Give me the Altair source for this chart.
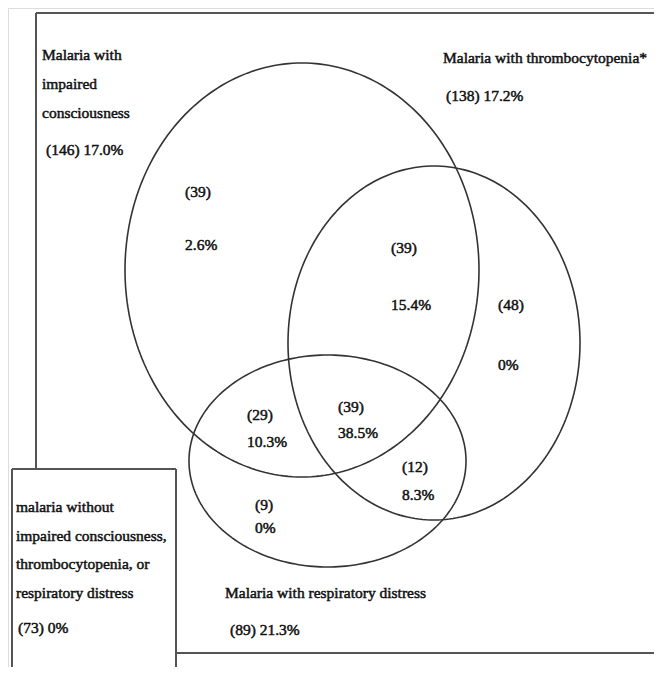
import altair as alt
import numpy as np
import pandas as pd

# ---- data ----
set_names = [
    ["Malaria with", "impaired", "consciousness"],
    ["Malaria with thrombocytopenia*"],
    ["Malaria with respiratory distress"],
    ["malaria without", "impaired consciousness,", "thrombocytopenia, or", "respiratory distress"],
]
set_counts = [146, 138, 89, 73]
set_pcts = ["17.0%", "17.2%", "21.3%", "0%"]

region_names = ["IC only", "IC+T", "T only", "IC+RD", "IC+T+RD", "T+RD", "RD only"]
region_counts = [39, 39, 48, 29, 39, 12, 9]
region_pcts = ["2.6%", "15.4%", "0%", "10.3%", "38.5%", "8.3%", "0%"]

# ---- layout (page-pixel positions) ----
# ellipses: cx, cy, rx, ry
ellipses = [(302, 270, 177, 207), (434, 343, 146, 177), (327.5, 461, 138.5, 106)]
# set label blocks: x, baseline of first line, line step, baseline of count line, x of count line
set_label_pos = [(42, 60, 29, 155, 46), (443, 63, 29, 101, 446), (225, 598, 29, 635, 230),
                 (16, 512, 28.5, 633, 18)]
# region labels: x, count baseline, pct baseline
region_pos = [(185, 197, 250), (391, 253, 310), (498, 310, 370), (247, 420, 447),
              (338, 412, 438), (402, 472, 500), (255, 510, 533)]
# frame lines: x, y, x2, y2
frame = [(36, 13, 662, 13), (36, 13, 36, 469), (176, 653, 662, 653),
         (12, 469, 176, 469), (12, 469, 12, 680), (176, 469, 176, 680)]

# ---- build tables ----
rows = []
for k, (cx, cy, rx, ry) in enumerate(ellipses):
    t = np.linspace(0, 2 * np.pi, 241)
    for i, a in enumerate(t):
        rows.append({"shape": k, "order": i, "x": cx + rx * np.cos(a), "y": cy + ry * np.sin(a)})
ell_df = pd.DataFrame(rows)

texts = []
for names, cnt, pct, (x, y0, step, yc, xc) in zip(set_names, set_counts, set_pcts, set_label_pos):
    for j, line in enumerate(names):
        texts.append({"x": x, "y": y0 + j * step, "t": line})
    texts.append({"x": xc, "y": yc, "t": f"({cnt}) {pct}"})
for cnt, pct, (x, yc, yp) in zip(region_counts, region_pcts, region_pos):
    texts.append({"x": x, "y": yc, "t": f"({cnt})"})
    texts.append({"x": x, "y": yp, "t": pct})
txt_df = pd.DataFrame(texts)

frame_df = pd.DataFrame(frame, columns=["x", "y", "x2", "y2"])

W, H = 646, 659
xs = alt.Scale(domain=[8, 8 + W])
ys = alt.Scale(domain=[8, 8 + H], reverse=True)
noax = None

lines = alt.Chart(ell_df).mark_line(color="#333333", strokeWidth=1.6, clip=False).encode(
    x=alt.X("x:Q", scale=xs, axis=noax),
    y=alt.Y("y:Q", scale=ys, axis=noax),
    detail="shape:N",
    order="order:Q",
)

rules = alt.Chart(frame_df).mark_rule(color="#555555", strokeWidth=2).encode(
    x=alt.X("x:Q", scale=xs, axis=noax),
    y=alt.Y("y:Q", scale=ys, axis=noax),
    x2="x2:Q",
    y2="y2:Q",
)

labels = alt.Chart(txt_df).mark_text(
    align="left", baseline="alphabetic",
    font="Liberation Serif",
    fontSize=15.5, color="#111111", stroke="#111111", strokeWidth=0.5,
).encode(
    x=alt.X("x:Q", scale=xs, axis=noax),
    y=alt.Y("y:Q", scale=ys, axis=noax),
    text="t:N",
)

chart = alt.layer(rules, lines, labels).properties(
    width=W, height=H, autosize=alt.AutoSizeParams(type="none"), padding=0
).configure_view(stroke=None).configure(background="white")

chart.save("out.html", embed_options={"renderer": "svg", "actions": False})
